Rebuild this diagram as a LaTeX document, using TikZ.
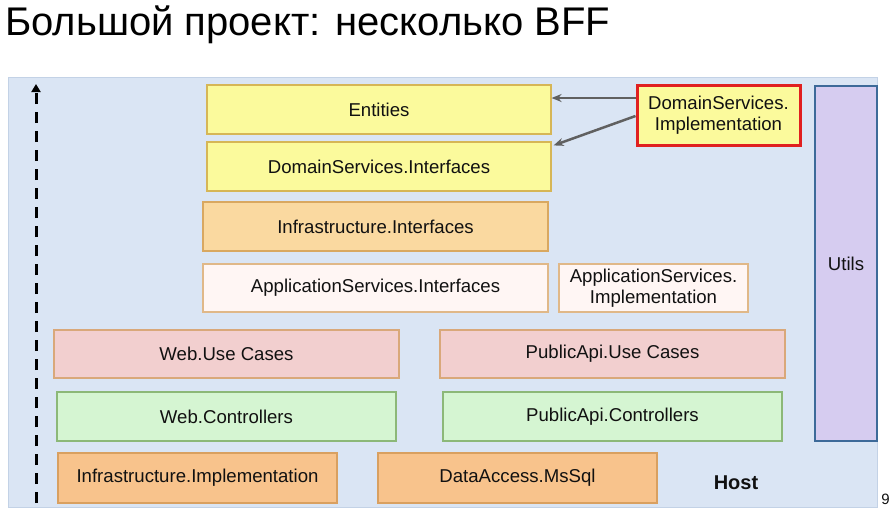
\documentclass[tikz,border=0pt]{standalone}
\usepackage{fontspec}
\setmainfont{Liberation Sans}
\usetikzlibrary{arrows.meta}

\definecolor{panelfill}{HTML}{DAE5F4}
\definecolor{paneldraw}{HTML}{C3D2E6}
\definecolor{yelfill}{HTML}{FBFA9C}
\definecolor{yeldraw}{HTML}{D6B656}
\definecolor{ifacefill}{HTML}{FAD9A0}
\definecolor{ifacedraw}{HTML}{D9A860}
\definecolor{appfill}{HTML}{FFF6F4}
\definecolor{appdraw}{HTML}{E0B888}
\definecolor{ucfill}{HTML}{F2CFCF}
\definecolor{ucdraw}{HTML}{D9A87A}
\definecolor{ctrlfill}{HTML}{D5F5D2}
\definecolor{ctrldraw}{HTML}{8CB878}
\definecolor{implfill}{HTML}{F8C38C}
\definecolor{impldraw}{HTML}{D9A060}
\definecolor{utilfill}{HTML}{D6CCF0}
\definecolor{utildraw}{HTML}{3D6A99}
\definecolor{hilite}{HTML}{E02020}
\definecolor{txt}{HTML}{111111}
\definecolor{dep}{HTML}{606060}

\begin{document}
\begin{tikzpicture}[x=1pt,y=-1pt,
  layer/.style={draw, line width=1.2pt, inner sep=0pt, align=center, text=txt,
    font=\fontsize{18.6}{21}\selectfont},
  yellow box/.style={layer, fill=yelfill, draw=yeldraw},
  iface box/.style={layer, fill=ifacefill, draw=ifacedraw},
  app box/.style={layer, fill=appfill, draw=appdraw},
  usecase box/.style={layer, fill=ucfill, draw=ucdraw},
  ctrl box/.style={layer, fill=ctrlfill, draw=ctrldraw},
  impl box/.style={layer, fill=implfill, draw=impldraw},
  depends/.style={draw=dep, line width=2.5pt, -{Stealth[length=10pt,width=8pt]}}]

\useasboundingbox (0,0) rectangle (891,515);

% title
\node[anchor=base west, inner sep=0pt, text=black, font=\fontsize{40}{44}\selectfont]
  (title) at (5,35) {Большой проект: несколько BFF};

% background panel
\node[draw=paneldraw, fill=panelfill, line width=1pt, minimum width=869pt,
  minimum height=430pt, inner sep=0pt] (panel) at (442.5,292) {};

% direction of dependencies
\coordinate (dirbottom) at (36,503);
\coordinate (dirtop) at (36,84);
\draw[line width=3pt, dash pattern=on 11pt off 8pt, -{Triangle[length=8pt,width=9pt]}]
  (dirbottom) -- (dirtop);

% layers
\node[yellow box, minimum width=344pt, minimum height=49pt] (entities) at (379,109.5) {Entities};
\node[yellow box, minimum width=344pt, minimum height=49pt] (dsint) at (379,166.5) {DomainServices.Interfaces};
\node[iface box, minimum width=345pt, minimum height=49pt] (infraint) at (375.5,226.5) {Infrastructure.Interfaces};
\node[app box, minimum width=345pt, minimum height=48pt] (appint) at (375.5,288) {ApplicationServices.Interfaces};
\node[app box, minimum width=189pt, minimum height=48pt] (appimpl) at (653.5,288) {ApplicationServices.\\Implementation};
\node[usecase box, minimum width=345pt, minimum height=48pt] (webuc) at (226.5,354) {Web.Use Cases};
\node[usecase box, minimum width=345pt, minimum height=48pt] (apiuc) at (612.5,354) {PublicApi.Use Cases};
\node[ctrl box, minimum width=339pt, minimum height=49pt] (webctrl) at (226.5,416.5) {Web.Controllers};
\node[ctrl box, minimum width=339pt, minimum height=49pt] (apictrl) at (612.5,416.5) {PublicApi.Controllers};
\node[impl box, minimum width=279pt, minimum height=50pt] (infraimpl) at (197.5,478) {Infrastructure.Implementation};
\node[impl box, minimum width=279pt, minimum height=50pt] (dataaccess) at (517.5,478) {DataAccess.MsSql};

\node[layer, fill=utilfill, draw=utildraw, line width=2pt, minimum width=62pt,
  minimum height=355pt] (utils) at (846,263.5) {Utils};

\node[yellow box, draw=hilite, line width=3pt, minimum width=163pt, minimum height=60pt]
  (dsimpl) at (718.5,115) {DomainServices.\\Implementation};

\node[anchor=base, inner sep=0pt, text=txt, font=\bfseries\fontsize{20}{23}\selectfont]
  (host) at (736,489) {Host};

\node[anchor=base east, inner sep=0pt, text=txt, font=\fontsize{15}{18}\selectfont]
  (slideno) at (890,504) {9};

% dependencies of the domain services implementation
\draw[depends] ([yshift=17pt]dsimpl.west) -- ([yshift=11.5pt]entities.east);
\draw[depends] ([yshift=-1pt]dsimpl.west) -- ([xshift=2pt,yshift=-4pt]dsint.north east);

\end{tikzpicture}
\end{document}
